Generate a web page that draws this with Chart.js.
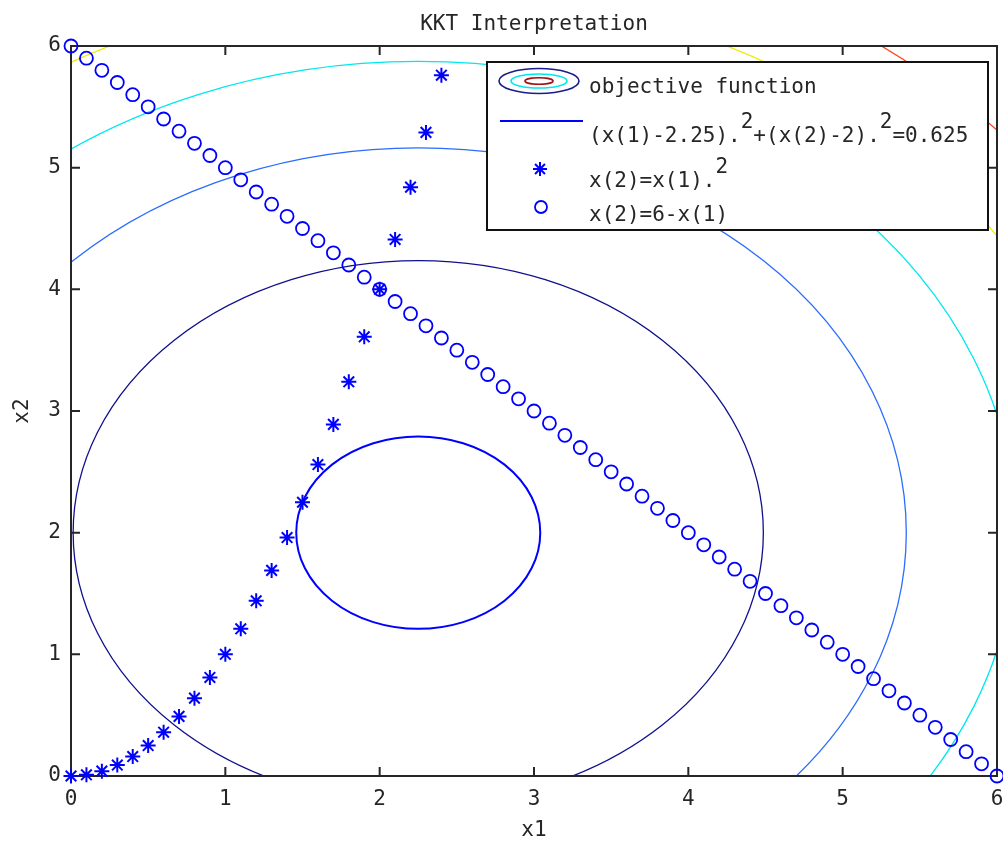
<!DOCTYPE html>
<html>
<head>
<meta charset="utf-8">
<title>KKT Interpretation</title>
<script src="https://cdn.jsdelivr.net/npm/chart.js@4.4.1/dist/chart.umd.min.js"></script>
<style>
  html, body { margin: 0; padding: 0; background: #fff; }
</style>
</head>
<body>
<canvas id="kktChart" width="1003" height="843"></canvas>
<script>
// x(2) = x(1).^2, sampled every 0.1 up to 2.4
const starX = [0, 0.1, 0.2, 0.3, 0.4, 0.5, 0.6, 0.7, 0.8, 0.9, 1.0, 1.1, 1.2,
               1.3, 1.4, 1.5, 1.6, 1.7, 1.8, 1.9, 2.0, 2.1, 2.2, 2.3, 2.4];
const starY = [0, 0.01, 0.04, 0.09, 0.16, 0.25, 0.36, 0.49, 0.64, 0.81, 1.00, 1.21, 1.44,
               1.69, 1.96, 2.25, 2.56, 2.89, 3.24, 3.61, 4.00, 4.41, 4.84, 5.29, 5.76];

// x(2) = 6 - x(1), sampled every 0.1
const lineX = [0, 0.1, 0.2, 0.3, 0.4, 0.5, 0.6, 0.7, 0.8, 0.9, 1.0, 1.1, 1.2, 1.3, 1.4, 1.5,
               1.6, 1.7, 1.8, 1.9, 2.0, 2.1, 2.2, 2.3, 2.4, 2.5, 2.6, 2.7, 2.8, 2.9, 3.0,
               3.1, 3.2, 3.3, 3.4, 3.5, 3.6, 3.7, 3.8, 3.9, 4.0, 4.1, 4.2, 4.3, 4.4, 4.5,
               4.6, 4.7, 4.8, 4.9, 5.0, 5.1, 5.2, 5.3, 5.4, 5.5, 5.6, 5.7, 5.8, 5.9, 6.0];
const lineY = [6.0, 5.9, 5.8, 5.7, 5.6, 5.5, 5.4, 5.3, 5.2, 5.1, 5.0, 4.9, 4.8, 4.7, 4.6, 4.5,
               4.4, 4.3, 4.2, 4.1, 4.0, 3.9, 3.8, 3.7, 3.6, 3.5, 3.4, 3.3, 3.2, 3.1, 3.0,
               2.9, 2.8, 2.7, 2.6, 2.5, 2.4, 2.3, 2.2, 2.1, 2.0, 1.9, 1.8, 1.7, 1.6, 1.5,
               1.4, 1.3, 1.2, 1.1, 1.0, 0.9, 0.8, 0.7, 0.6, 0.5, 0.4, 0.3, 0.2, 0.1, 0.0];

// objective (x1-2.25)^2 + (x2-2)^2, its contour levels and the constraint level
const objectiveCenter = [2.25, 2];
const contourLevels = [5, 10, 15, 20, 25];
const contourColors = ['#10108c', '#2a6cff', '#00e8ee', '#eeee00', '#ff4a1a'];
const constraintLevel = 0.625;

const tickValues = [0, 1, 2, 3, 4, 5, 6];

const FONT = '"DejaVu Sans Mono", "Liberation Mono", monospace';
const INK = '#262626';

const toPoints = (xs, ys) => xs.map((v, i) => ({ x: v, y: ys[i] }));

// contour rings, axes box with inward ticks, and the matlab style legend
const kktPlugin = {
    id: 'kkt',
    beforeDatasetsDraw(chart) {
        const { ctx, chartArea: a, scales: { x, y } } = chart;
        const cx = x.getPixelForValue(objectiveCenter[0]);
        const cy = y.getPixelForValue(objectiveCenter[1]);

        const ring = (level, color, width) => {
            const r = Math.sqrt(level);
            const rx = x.getPixelForValue(objectiveCenter[0] + r) - cx;
            const ry = cy - y.getPixelForValue(objectiveCenter[1] + r);
            ctx.beginPath();
            ctx.ellipse(cx, cy, rx, ry, 0, 0, Math.PI * 2);
            ctx.strokeStyle = color;
            ctx.lineWidth = width;
            ctx.stroke();
        };

        ctx.save();
        ctx.beginPath();
        ctx.rect(a.left, a.top, a.right - a.left, a.bottom - a.top);
        ctx.clip();
        contourLevels.forEach((lv, i) => ring(lv, contourColors[i], 1.3));
        ring(constraintLevel, '#0000ff', 2);
        ctx.restore();

        // box
        ctx.save();
        ctx.strokeStyle = INK;
        ctx.lineWidth = 2;
        ctx.strokeRect(a.left, a.top, a.right - a.left, a.bottom - a.top);
        ctx.beginPath();
        tickValues.forEach(v => {
            const px = x.getPixelForValue(v);
            ctx.moveTo(px, a.bottom); ctx.lineTo(px, a.bottom - 9);
            ctx.moveTo(px, a.top); ctx.lineTo(px, a.top + 9);
            const py = y.getPixelForValue(v);
            ctx.moveTo(a.left, py); ctx.lineTo(a.left + 9, py);
            ctx.moveTo(a.right, py); ctx.lineTo(a.right - 9, py);
        });
        ctx.stroke();
        ctx.restore();
    },
    afterDraw(chart) {
        const { ctx, chartArea: a } = chart;
        const right = a.right - 9;
        const top = a.top + 16;
        const left = right - 501;
        const h = 168;

        ctx.save();
        ctx.fillStyle = '#fff';
        ctx.fillRect(left, top, right - left, h);
        ctx.strokeStyle = '#111';
        ctx.lineWidth = 2;
        ctx.strokeRect(left, top, right - left, h);

        const ix = left + 53;
        const tx = left + 102;

        // objective function icon
        const ell = (rx, ry, color) => {
            ctx.beginPath();
            ctx.ellipse(ix - 1, top + 19, rx, ry, 0, 0, Math.PI * 2);
            ctx.strokeStyle = color;
            ctx.lineWidth = 1.6;
            ctx.stroke();
        };
        ell(40, 12.5, '#1c1c8a');
        ell(28, 7, '#00e8ee');
        ell(14, 3.2, '#a01010');

        // constraint line icon
        ctx.beginPath();
        ctx.moveTo(left + 13, top + 59);
        ctx.lineTo(left + 96, top + 59);
        ctx.strokeStyle = '#0000ff';
        ctx.lineWidth = 2;
        ctx.stroke();

        // star icon
        const sy = top + 107, r = 7, d = r * Math.SQRT1_2;
        ctx.beginPath();
        ctx.moveTo(ix - r, sy); ctx.lineTo(ix + r, sy);
        ctx.moveTo(ix, sy - r); ctx.lineTo(ix, sy + r);
        ctx.moveTo(ix - d, sy - d); ctx.lineTo(ix + d, sy + d);
        ctx.moveTo(ix - d, sy + d); ctx.lineTo(ix + d, sy - d);
        ctx.lineWidth = 2;
        ctx.stroke();

        // circle icon
        ctx.beginPath();
        ctx.arc(ix + 1, top + 145, 6, 0, Math.PI * 2);
        ctx.lineWidth = 1.8;
        ctx.stroke();

        // texts
        ctx.fillStyle = INK;
        ctx.font = '21px ' + FONT;
        ctx.textBaseline = 'alphabetic';
        ctx.textAlign = 'left';

        const runs = (parts, baseY) => {
            let cxp = tx;
            parts.forEach(([txt, sup]) => {
                ctx.fillText(txt, cxp, sup ? baseY - 14 : baseY);
                cxp += ctx.measureText(txt).width;
            });
        };
        runs([['objective function', false]], top + 31);
        runs([['(x(1)-2.25).', false], ['2', true], ['+(x(2)-2).', false], ['2', true], ['=0.625', false]], top + 80);
        runs([['x(2)=x(1).', false], ['2', true]], top + 125);
        runs([['x(2)=6-x(1)', false]], top + 159);
        ctx.restore();
    }
};

const tickFont = { family: FONT, size: 21 };

new Chart(document.getElementById('kktChart'), {
    type: 'scatter',
    data: {
        datasets: [
            {
                label: 'x(2)=x(1).^2',
                data: toPoints(starX, starY),
                pointStyle: 'star',
                pointRadius: 7.5,
                pointBorderWidth: 2,
                borderColor: '#0000ff',
                backgroundColor: '#0000ff',
                clip: false
            },
            {
                label: 'x(2)=6-x(1)',
                data: toPoints(lineX, lineY),
                pointStyle: 'circle',
                pointRadius: 6.5,
                pointBorderWidth: 1.8,
                borderColor: '#0000ff',
                backgroundColor: 'rgba(0,0,0,0)',
                clip: false
            }
        ]
    },
    options: {
        responsive: false,
        animation: false,
        layout: { autoPadding: false, padding: { left: 0, right: 6, top: 0, bottom: 0 } },
        plugins: {
            legend: { display: false },
            tooltip: { enabled: false },
            title: {
                display: true,
                fullSize: false,
                text: 'KKT Interpretation',
                color: INK,
                font: { family: FONT, size: 21, weight: 'normal' },
                padding: { top: 12, bottom: 8.8 }
            }
        },
        scales: {
            x: {
                type: 'linear',
                min: 0,
                max: 6,
                ticks: { stepSize: 1, padding: 11, color: INK, font: tickFont, maxRotation: 0 },
                grid: { display: false, drawTicks: false },
                border: { display: false },
                title: { display: true, text: 'x1', color: INK, font: tickFont, padding: 0 },
                afterFit(scale) {
                    scale.height = 67;
                    scale.paddingLeft = 0;
                    scale.paddingRight = 0;
                }
            },
            y: {
                type: 'linear',
                min: 0,
                max: 6,
                ticks: { stepSize: 1, padding: 10, color: INK, font: tickFont },
                grid: { display: false, drawTicks: false },
                border: { display: false },
                title: { display: true, text: 'x2', color: INK, font: tickFont, padding: { top: 10, bottom: 0 } },
                afterFit(scale) {
                    scale.width = 71;
                    scale.paddingTop = 0;
                    scale.paddingBottom = 0;
                }
            }
        }
    },
    plugins: [kktPlugin]
});
</script>
</body>
</html>
